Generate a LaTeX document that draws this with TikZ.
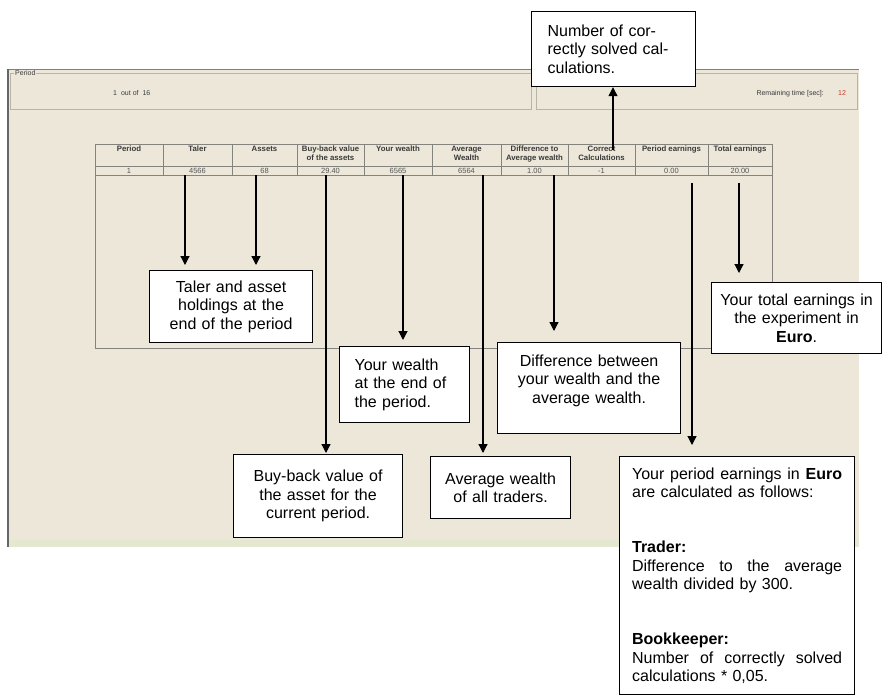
\documentclass[tikz,border=0pt]{standalone}
\usepackage{fontspec}
\setmainfont{Liberation Sans}
\usetikzlibrary{arrows.meta}
\definecolor{screenbg}{HTML}{ECE7D9}
\definecolor{panelline}{HTML}{B8B4A8}
\definecolor{gridline}{HTML}{85837D}
\definecolor{stripc}{HTML}{E4E8D0}
\definecolor{timered}{HTML}{C0392B}
\definecolor{scrtext}{HTML}{3A3A3A}
\definecolor{valtext}{HTML}{555555}
\begin{document}
\begin{tikzpicture}[x=1pt,y=-1pt,
  scr/.style={font=\fontsize{7}{8}\selectfont, text=scrtext, inner sep=0pt},
  hdr/.style={font=\fontsize{7.8}{9}\selectfont\bfseries, text=scrtext, inner sep=0pt, align=center, anchor=north},
  val/.style={font=\fontsize{7.5}{8}\selectfont, text=valtext, inner sep=0pt, anchor=base},
  grid/.style={draw=gridline, line width=0.8pt},
  callout/.style={draw=black, line width=1.2pt, fill=white, inner sep=0pt, anchor=north west, font=\fontsize{16}{18.4}\selectfont},
  arr/.style={draw=black, line width=1.2pt, -{Triangle[width=9pt,length=9pt]}}
]
\useasboundingbox (0,0) rectangle (889,697);
% screen background
\fill[screenbg] (8,69) rectangle (859,547);
\fill[stripc] (9,540) rectangle (859,547);
\draw[gray, line width=0.8pt] (8,69) -- (859,69);
\draw[gray!80!black, line width=1.5pt] (8,69) -- (8,547);
% top panels
\draw[panelline, line width=0.8pt] (10,73) rectangle (531,109);
\draw[panelline, line width=0.8pt] (536,73) rectangle (857,109);
\node[scr, fill=screenbg, inner xsep=1pt, anchor=west] (ptitle) at (14,73) {Period};
\node[scr, anchor=base west] (pcount) at (113,95) {1\hspace{4pt}out of\hspace{4pt}16};
\node[scr, anchor=base east] (rtime) at (824,95) {Remaining time [sec]:};
\node[scr, text=timered, anchor=base west] (rval) at (838,95) {12};
% table
\draw[grid] (95,144) rectangle (772,175);
\draw[grid] (95,166) -- (772,166);
\foreach \x in {163,232,297,364,432,501,568,635,708} \draw[grid] (\x,144) -- (\x,175);
\draw[grid] (95,175) rectangle (772,348);
\node[hdr] (h1) at (129,146) {Period};
\node[hdr] (h2) at (197.5,146) {Taler};
\node[hdr] (h3) at (264.5,146) {Assets};
\node[hdr] (h4) at (330.5,146) {Buy-back value\\of the assets};
\node[hdr] (h5) at (398,146) {Your wealth};
\node[hdr] (h6) at (466.5,146) {Average\\Wealth};
\node[hdr] (h7) at (534.5,146) {Difference to\\Average wealth};
\node[hdr] (h8) at (601.5,146) {Correct\\Calculations};
\node[hdr] (h9) at (671.5,146) {Period earnings};
\node[hdr] (h10) at (740,146) {Total earnings};
\node[val] (v1) at (129,173) {1};
\node[val] (v2) at (197.5,173) {4566};
\node[val] (v3) at (264.5,173) {68};
\node[val] (v4) at (330.5,173) {29.40};
\node[val] (v5) at (398,173) {6565};
\node[val] (v6) at (466.5,173) {6564};
\node[val] (v7) at (534.5,173) {1.00};
\node[val] (v8) at (601.5,173) {-1};
\node[val] (v9) at (671.5,173) {0.00};
\node[val] (v10) at (740,173) {20.00};
% callouts
\node[callout, minimum width=164pt, minimum height=75pt, text width=132pt, align=left] (bcorr) at (531,11) {Number of cor-\\rectly solved cal-\\culations.};
\node[callout, minimum width=163pt, minimum height=72pt, text width=150pt, align=center] (btaler) at (149,270) {Taler and asset\\holdings at the\\end of the period};
\node[callout, minimum width=130pt, minimum height=76pt, text width=100pt, align=left] (bwealth) at (339,346) {Your wealth\\at the end of\\the period.};
\node[callout, minimum width=183pt, minimum height=91pt, text width=170pt, align=center] (bdiff) at (497,342) {Difference between\\your wealth and the\\average wealth.\\\mbox{}};
\node[callout, minimum width=170pt, minimum height=71pt, text width=164pt, align=center] (btotal) at (711,282) {Your total earnings in\\the experiment in\\\textbf{Euro}.};
\node[callout, minimum width=169pt, minimum height=83pt, text width=160pt, align=center] (bbuy) at (233,454) {Buy-back value of\\the asset for the\\current period.};
\node[callout, minimum width=140pt, minimum height=62pt, text width=130pt, align=center] (bavg) at (430,456) {Average wealth\\of all traders.};
\node[callout, minimum width=235pt, minimum height=238pt, text width=210pt, align=left] (bperiod) at (619,456) {Your\hfill period\hfill earnings\hfill in\hfill \textbf{Euro}\\
are calculated as follows:\\[36.8pt]
\textbf{Trader:}\\
Difference\hfill to\hfill the\hfill average\\
wealth divided by 300.\\[36.8pt]
\textbf{Bookkeeper:}\\
Number\hfill of\hfill correctly\hfill solved\\
calculations * 0,05.};
% arrows
\coordinate (aTaler) at (185,175);
\coordinate (aAssets) at (256,175);
\coordinate (aBuy) at (326,175);
\coordinate (aWealth) at (403,175);
\coordinate (aAvg) at (483,175);
\coordinate (aDiff) at (554,175);
\coordinate (aCorr) at (613,150);
\coordinate (aPer) at (692,183);
\coordinate (aTot) at (739,183);
\draw[arr, shorten >=5pt] (aTaler) -- (aTaler |- btaler.north);
\draw[arr, shorten >=5pt] (aAssets) -- (aAssets |- btaler.north);
\draw[arr, shorten >=1pt] (aBuy) -- (aBuy |- bbuy.north);
\draw[arr, shorten >=6pt] (aWealth) -- (aWealth |- bwealth.north);
\draw[arr, shorten >=3pt] (aAvg) -- (aAvg |- bavg.north);
\draw[arr, shorten >=11pt] (aDiff) -- (aDiff |- bdiff.north);
\draw[arr] (aCorr) -- (aCorr |- bcorr.south);
\draw[arr, shorten >=11pt] (aPer) -- (aPer |- bperiod.north);
\draw[arr, shorten >=9pt] (aTot) -- (aTot |- btotal.north);
\end{tikzpicture}
\end{document}
